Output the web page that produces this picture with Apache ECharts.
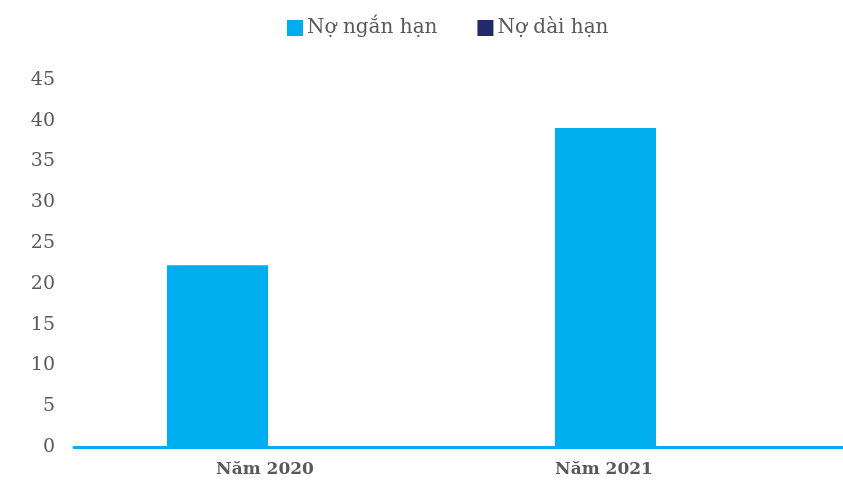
<!DOCTYPE html>
<html><head><meta charset="utf-8">
<script src="https://cdn.jsdelivr.net/npm/echarts@6/dist/echarts.min.js"></script>
<style>html,body{margin:0;padding:0;background:#fff;overflow:hidden}#c{width:850px;height:491px}</style>
</head><body><div id="c"></div>
<script>
const categories = ['Năm 2020', 'Năm 2021'];
const shortTerm = [22.3, 39.1];
const longTerm = [0, 0];
const seriesNames = ['Nợ ngắn hạn', 'Nợ dài hạn'];
const yMin = 0, yMax = 45, yStep = 5;

const chart = echarts.init(document.getElementById('c'), null, {renderer: 'canvas'});
const font = '"DejaVu Serif", "Liberation Serif", serif';
chart.setOption({
  animation: false,
  backgroundColor: '#ffffff',
  legend: {
    top: 13, left: 282,
    itemWidth: 16, itemHeight: 16, itemGap: 40,
    icon: 'rect',
    textStyle: {fontFamily: font, fontSize: 20, color: '#595959', padding: [0, 0, 0, -1]},
    data: seriesNames
  },
  grid: {left: 74, right: 0, top: 80, bottom: 44, containLabel: false},
  xAxis: {
    type: 'category', data: categories,
    axisLine: {show: true, lineStyle: {color: '#00AEEF', width: 3}},
    axisTick: {show: false},
    axisLabel: {
      margin: 14,
      formatter: function (v, i) { return i === 0 ? '{a|' + v + '}' : '{b|' + v + '}'; },
      rich: {
        a: {fontFamily: font, fontSize: 17, fontWeight: 'bold', color: '#595959', padding: [0, 6, 0, 0]},
        b: {fontFamily: font, fontSize: 17, fontWeight: 'bold', color: '#595959', padding: [0, 104, 0, 0]}
      }
    }
  },
  yAxis: {
    type: 'value', min: yMin, max: yMax, interval: yStep,
    axisLine: {show: false}, axisTick: {show: false}, splitLine: {show: false},
    axisLabel: {margin: 19, fontFamily: font, fontSize: 19, color: '#595959'}
  },
  series: [
    {name: seriesNames[0], type: 'bar', data: shortTerm, barWidth: 101, barGap: '0%', itemStyle: {color: '#00AEEF'}},
    {name: seriesNames[1], type: 'bar', data: longTerm, barWidth: 101, barGap: '0%', itemStyle: {color: '#222A67'}}
  ]
});
</script></body></html>
